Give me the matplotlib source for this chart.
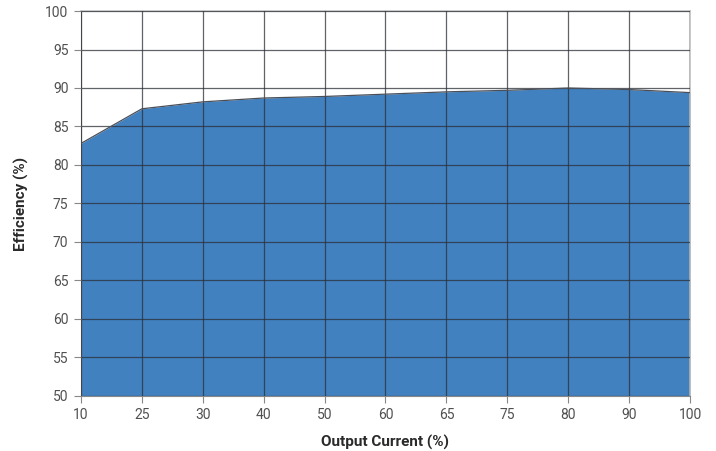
import matplotlib.pyplot as plt

# efficiency curve
current_labels = ["10", "25", "30", "40", "50", "60", "65", "75", "80", "90", "100"]
efficiency = [82.8, 87.3, 88.2, 88.7, 88.9, 89.2, 89.5, 89.7, 90.0, 89.8, 89.4]
y_ticks = [50, 55, 60, 65, 70, 75, 80, 85, 90, 95, 100]

plt.rcParams['font.family'] = ['Roboto', 'DejaVu Sans']

fig = plt.figure(figsize=(7.16, 4.51), dpi=100)
ax = fig.add_axes([0.1131, 0.122, 0.8506, 0.8536])

x = list(range(len(current_labels)))
ax.fill_between(x, 50, efficiency, color='#4181c0', linewidth=0, zorder=1)
ax.plot(x, efficiency, color='#4a4f58', linewidth=0.9, zorder=3)

ax.set_xlim(0, len(current_labels) - 1)
ax.set_ylim(50, 100)
ax.set_xticks(x)
ax.set_xticklabels(current_labels)
ax.set_yticks(y_ticks)

ax.grid(True, color='#2b2f36', linewidth=0.9, alpha=0.75, zorder=2)
ax.set_axisbelow(False)

for side in ['top', 'right']:
    ax.spines[side].set_color('#c0c0c0')
    ax.spines[side].set_linewidth(1.2)
ax.spines['left'].set_color('#888888')
ax.spines['bottom'].set_color('#888888')

ax.tick_params(axis='both', colors='#888888', labelcolor='#505050',
               labelsize=10, length=5, width=0.8, pad=4)

ax.set_xlabel("Output Current (%)", fontsize=11, fontweight='bold',
              color='#2a2a2a', labelpad=9)
ax.set_ylabel("Efficiency (%)", fontsize=11, fontweight='bold',
              color='#2a2a2a', labelpad=12)

fig.savefig("out.png", dpi=100)
